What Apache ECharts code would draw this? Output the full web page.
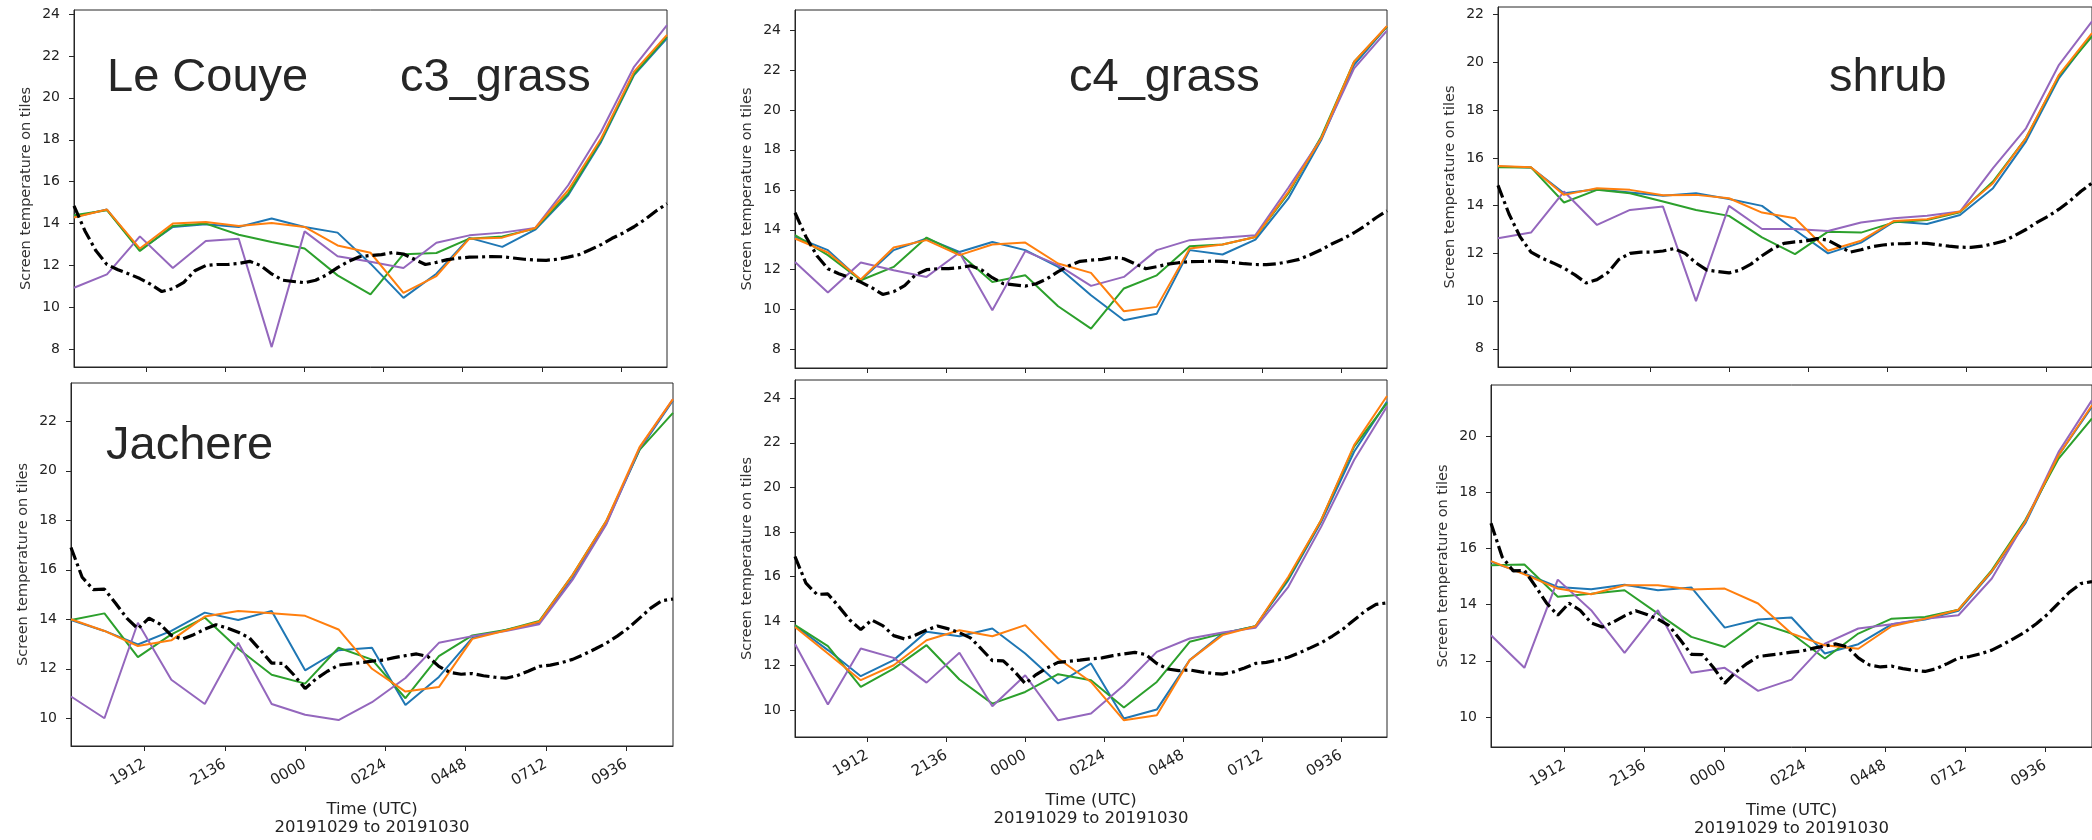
<!DOCTYPE html>
<html>
<head>
<meta charset="utf-8">
<script src="https://cdn.jsdelivr.net/npm/echarts@6/dist/echarts.min.js"></script>
<style>
  html, body { margin: 0; padding: 0; background: #fff; }
  #chart { width: 2092px; height: 840px; }
</style>
</head>
<body>
<div id="chart"></div>
<script>
// hourly model output, 17:00 on 29 Oct to 11:00 on 30 Oct
const hours = ['1700', '1800', '1900', '2000', '2100', '2200', '2300', '0000', '0100', '0200',
  '0300', '0400', '0500', '0600', '0700', '0800', '0900', '1000', '1100']

// observations, every 20 min
const obsTimes = ['1700', '1720', '1740', '1800', '1820', '1840', '1900', '1920', '1940',
  '2000', '2020', '2040', '2100', '2120', '2140', '2200', '2220', '2240', '2300', '2320', '2340',
  '0000', '0020', '0040', '0100', '0120', '0140', '0200', '0220', '0240', '0300', '0320', '0340',
  '0400', '0420', '0440', '0500', '0520', '0540', '0600', '0620', '0640', '0700', '0720', '0740',
  '0800', '0820', '0840', '0900', '0920', '0940', '1000', '1020', '1040', '1100']

const obsLeCouye = [14.85, 13.65, 12.7, 12.05, 11.8, 11.6, 11.38, 11.1, 10.76, 10.9, 11.2, 11.75,
  12.0, 12.05, 12.05, 12.1, 12.2, 12.0, 11.6, 11.3, 11.24, 11.18, 11.3, 11.55, 11.9, 12.2, 12.42,
  12.48, 12.52, 12.62, 12.55, 12.3, 12.05, 12.15, 12.28, 12.35, 12.4, 12.41, 12.43, 12.42, 12.36,
  12.3, 12.26, 12.25, 12.3, 12.4, 12.52, 12.75, 13.0, 13.3, 13.55, 13.85, 14.2, 14.6, 14.95]
const obsJachere = [16.9, 15.7, 15.2, 15.22, 14.65, 14.05, 13.62, 14.05, 13.8, 13.35, 13.2, 13.38,
  13.6, 13.78, 13.65, 13.48, 13.25, 12.75, 12.23, 12.22, 11.75, 11.2, 11.6, 11.9, 12.15, 12.2, 12.25,
  12.31, 12.35, 12.45, 12.53, 12.6, 12.5, 12.1, 11.85, 11.78, 11.81, 11.72, 11.66, 11.62, 11.72,
  11.9, 12.1, 12.15, 12.25, 12.38, 12.58, 12.8, 13.03, 13.32, 13.65, 14.05, 14.45, 14.75, 14.82]

// Le Couye
const c3LcBlue = [14.32, 14.67, 12.73, 13.84, 13.97, 13.84, 14.24, 13.84, 13.57, 12.09, 10.46, 11.61, 13.32, 12.89, 13.71, 15.35, 17.9, 21.09, 22.84]
const c3LcGreen = [14.4, 14.64, 12.69, 13.89, 14.0, 13.47, 13.12, 12.81, 11.53, 10.62, 12.54, 12.6, 13.28, 13.39, 13.76, 15.43, 17.98, 21.13, 22.92]
const c3LcOrange = [14.29, 14.67, 12.81, 14.0, 14.08, 13.89, 14.03, 13.84, 12.96, 12.61, 10.7, 11.5, 13.28, 13.33, 13.79, 15.59, 18.06, 21.25, 23.0]
const c3LcPurple = [10.94, 11.58, 13.39, 11.88, 13.17, 13.28, 8.11, 13.63, 12.44, 12.18, 11.88, 13.09, 13.44, 13.57, 13.79, 15.83, 18.38, 21.48, 23.47]

const c4LcBlue = [13.64, 12.98, 11.47, 12.98, 13.56, 12.89, 13.39, 12.98, 12.14, 10.72, 9.47, 9.8, 12.98, 12.76, 13.51, 15.57, 18.49, 22.25, 24.17]
const c4LcGreen = [13.73, 12.73, 11.47, 12.14, 13.61, 12.81, 11.39, 11.72, 10.17, 9.05, 11.06, 11.72, 13.18, 13.26, 13.64, 15.82, 18.66, 22.41, 24.17]
const c4LcOrange = [13.56, 12.86, 11.51, 13.11, 13.48, 12.73, 13.26, 13.36, 12.31, 11.84, 9.92, 10.14, 13.06, 13.26, 13.64, 15.9, 18.57, 22.41, 24.2]
const c4LcPurple = [12.39, 10.86, 12.36, 11.97, 11.64, 12.86, 9.97, 12.93, 12.23, 11.19, 11.64, 12.98, 13.48, 13.6, 13.73, 16.1, 18.57, 22.08, 23.97]

const shLcBlue = [15.64, 15.6, 14.52, 14.69, 14.55, 14.41, 14.52, 14.28, 13.99, 12.98, 12.0, 12.45, 13.33, 13.23, 13.61, 14.73, 16.69, 19.34, 21.16]
const shLcGreen = [15.61, 15.6, 14.13, 14.66, 14.52, 14.17, 13.82, 13.57, 12.67, 11.97, 12.91, 12.87, 13.3, 13.4, 13.72, 15.01, 16.83, 19.44, 21.09]
const shLcOrange = [15.66, 15.61, 14.45, 14.73, 14.66, 14.43, 14.45, 14.31, 13.71, 13.47, 12.11, 12.53, 13.36, 13.43, 13.75, 14.94, 16.83, 19.48, 21.23]
const shLcPurple = [12.63, 12.87, 14.59, 13.19, 13.82, 13.96, 10.0, 13.99, 13.02, 13.02, 12.94, 13.29, 13.47, 13.58, 13.75, 15.57, 17.24, 19.9, 21.72]

// Jachere
const c3JaBlue = [13.97, 13.53, 12.98, 13.53, 14.27, 13.97, 14.34, 11.94, 12.75, 12.85, 10.54, 11.67, 13.25, 13.57, 13.86, 15.66, 17.86, 20.85, 22.85]
const c3JaGreen = [13.97, 14.24, 12.47, 13.39, 14.07, 12.81, 11.76, 11.4, 12.85, 12.37, 10.81, 12.51, 13.35, 13.57, 13.93, 15.8, 17.96, 20.85, 22.34]
const c3JaOrange = [14.0, 13.53, 12.92, 13.15, 14.11, 14.34, 14.24, 14.14, 13.59, 12.0, 11.08, 11.26, 13.21, 13.55, 13.9, 15.8, 17.96, 20.96, 22.9]
const c3JaPurple = [10.88, 10.0, 13.86, 11.56, 10.58, 13.05, 10.58, 10.14, 9.93, 10.65, 11.63, 13.05, 13.32, 13.53, 13.8, 15.6, 17.82, 20.92, 22.9]

const c4JaBlue = [13.79, 12.7, 11.53, 12.25, 13.52, 13.32, 13.67, 12.55, 11.2, 12.1, 9.63, 10.03, 12.25, 13.44, 13.77, 15.84, 18.46, 21.6, 23.85]
const c4JaGreen = [13.82, 12.88, 11.05, 11.87, 12.92, 11.38, 10.3, 10.82, 11.62, 11.35, 10.12, 11.27, 13.07, 13.44, 13.77, 15.91, 18.54, 21.83, 23.78]
const c4JaOrange = [13.74, 12.55, 11.35, 12.02, 13.14, 13.59, 13.32, 13.82, 12.32, 11.27, 9.55, 9.78, 12.25, 13.37, 13.77, 15.99, 18.54, 21.9, 24.1]
const c4JaPurple = [12.97, 10.26, 12.77, 12.35, 11.24, 12.58, 10.18, 11.57, 9.55, 9.85, 11.12, 12.62, 13.22, 13.49, 13.7, 15.54, 18.24, 21.23, 23.63]

const shJaBlue = [15.52, 15.11, 14.63, 14.55, 14.71, 14.51, 14.61, 13.18, 13.47, 13.54, 12.26, 12.59, 13.3, 13.47, 13.78, 15.17, 16.89, 19.32, 21.05]
const shJaGreen = [15.4, 15.43, 14.28, 14.39, 14.51, 13.68, 12.85, 12.49, 13.36, 12.97, 12.08, 12.97, 13.5, 13.56, 13.82, 15.23, 17.01, 19.2, 20.63]
const shJaOrange = [15.55, 15.08, 14.57, 14.37, 14.69, 14.69, 14.54, 14.57, 14.04, 12.97, 12.55, 12.43, 13.23, 13.5, 13.82, 15.19, 16.95, 19.32, 21.1]
const shJaPurple = [12.91, 11.75, 14.89, 13.8, 12.28, 13.8, 11.57, 11.75, 10.93, 11.33, 12.61, 13.15, 13.3, 13.5, 13.62, 14.93, 16.95, 19.44, 21.28]

// x ticks (HHMM) and y ticks per panel
const xTickLabels = ['1912', '2136', '0000', '0224', '0448', '0712', '0936']
const yTicksTop = [8, 10, 12, 14, 16, 18, 20, 22, 24]
const yTicksShrubTop = [8, 10, 12, 14, 16, 18, 20, 22]
const yTicksJaC3 = [10, 12, 14, 16, 18, 20, 22]
const yTicksJaC4 = [10, 12, 14, 16, 18, 20, 22, 24]
const yTicksJaShrub = [10, 12, 14, 16, 18, 20]

const COLORS = { blue: '#1f77b4', orange: '#ff7f0e', green: '#2ca02c', purple: '#9467bd' }
const INK = '#262626'

// minutes since 17:00 on the first day
const minutesOf = (s) => {
  let m = Number(s.slice(0, 2)) * 60 + Number(s.slice(2)) - 17 * 60
  if (m < 0) m += 1440
  return m
}
const xTicks = xTickLabels.map(minutesOf)

const panels = [
  { grid: { left: 74, top: 10, width: 593, height: 357 }, y: [7.16, 24.19], ticks: yTicksTop, bottom: false,
    obs: obsLeCouye, runs: [c3LcBlue, c3LcGreen, c3LcPurple, c3LcOrange] },
  { grid: { left: 795, top: 10, width: 592, height: 358 }, y: [7.08, 25.0], ticks: yTicksTop, bottom: false,
    obs: obsLeCouye, runs: [c4LcBlue, c4LcGreen, c4LcPurple, c4LcOrange] },
  { grid: { left: 1498, top: 7, width: 596, height: 360 }, y: [7.24, 22.32], ticks: yTicksShrubTop, bottom: false,
    obs: obsLeCouye, runs: [shLcBlue, shLcGreen, shLcPurple, shLcOrange] },
  { grid: { left: 71, top: 383, width: 602, height: 363 }, y: [8.88, 23.55], ticks: yTicksJaC3, bottom: true,
    obs: obsJachere, runs: [c3JaBlue, c3JaGreen, c3JaPurple, c3JaOrange] },
  { grid: { left: 795, top: 380, width: 592, height: 357 }, y: [8.8, 24.82], ticks: yTicksJaC4, bottom: true,
    obs: obsJachere, runs: [c4JaBlue, c4JaGreen, c4JaPurple, c4JaOrange] },
  { grid: { left: 1491, top: 385, width: 601, height: 362 }, y: [8.93, 21.82], ticks: yTicksJaShrub, bottom: true,
    obs: obsJachere, runs: [shJaBlue, shJaGreen, shJaPurple, shJaOrange] }
]
const runColors = [COLORS.blue, COLORS.green, COLORS.purple, COLORS.orange]

const series = []
panels.forEach((p, i) => {
  p.runs.forEach((vals, k) => {
    series.push({
      type: 'line', xAxisIndex: i, yAxisIndex: i, symbol: 'none',
      data: hours.map((h, j) => [minutesOf(h), vals[j]]),
      lineStyle: { color: runColors[k], width: 2 }
    })
  })
  series.push({
    type: 'line', xAxisIndex: i, yAxisIndex: i, symbol: 'none',
    data: obsTimes.map((t, j) => [minutesOf(t), p.obs[j]]),
    lineStyle: { color: '#000', width: 3.2, type: [13, 4, 3, 4], cap: 'butt' }
  })
})

const label = (text, x, y) => ({
  type: 'text', x, y,
  style: { text, fill: INK, font: '47px "Liberation Sans", Arial, sans-serif', verticalAlign: 'middle' }
})

const chart = echarts.init(document.getElementById('chart'))
chart.setOption({
  animation: false,
  backgroundColor: '#fff',
  grid: panels.map((p) => ({ ...p.grid, show: true, borderColor: INK, borderWidth: 1 })),
  xAxis: panels.map((p, i) => ({
    type: 'value', gridIndex: i, min: 0, max: 1080,
    splitLine: { show: false },
    axisLine: { lineStyle: { color: INK, width: 1 } },
    axisTick: { customValues: xTicks, length: 5, lineStyle: { color: INK } },
    axisLabel: {
      show: p.bottom, customValues: xTicks, rotate: 30, margin: 17,
      fontFamily: 'DejaVu Sans', fontSize: 15, color: '#222',
      formatter: (v) => xTickLabels[xTicks.indexOf(v)]
    },
    name: p.bottom ? 'Time (UTC)\n20191029 to 20191030' : '',
    nameLocation: 'middle', nameGap: 55,
    nameTextStyle: { fontFamily: 'DejaVu Sans', fontSize: 16.5, color: '#222', lineHeight: 18 }
  })),
  yAxis: panels.map((p, i) => ({
    type: 'value', gridIndex: i, min: p.y[0], max: p.y[1],
    splitLine: { show: false },
    axisLine: { show: true, lineStyle: { color: INK, width: 1 } },
    axisTick: { show: true, customValues: p.ticks, length: 5, lineStyle: { color: INK } },
    axisLabel: { customValues: p.ticks, margin: 14, fontFamily: 'DejaVu Sans', fontSize: 14, color: '#222' },
    name: 'Screen temperature on tiles', nameLocation: 'middle', nameGap: 40,
    nameTextStyle: { fontFamily: 'DejaVu Sans', fontSize: 14.5, color: '#333' }
  })),
  graphic: [
    label('Le Couye', 107, 78),
    label('c3_grass', 400, 78),
    label('c4_grass', 1069, 78),
    label('shrub', 1829, 78),
    label('Jachere', 106, 446)
  ],
  series
})
</script>
</body>
</html>
